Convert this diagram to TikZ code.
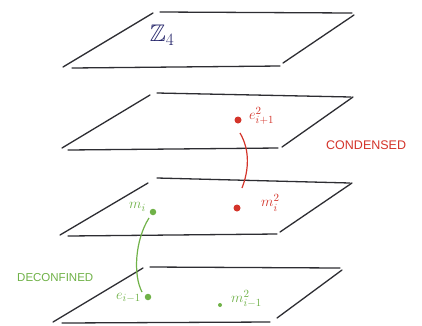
\documentclass[tikz,border=0pt]{standalone}
\usepackage{amssymb}
\usepackage{fontspec}
\setsansfont{Liberation Sans}
\definecolor{pen}{RGB}{45,45,50}
\definecolor{redink}{RGB}{212,52,42}
\definecolor{greenink}{RGB}{112,178,72}
\definecolor{navyink}{RGB}{35,35,105}
\begin{document}
\begin{tikzpicture}[x=1pt,y=-1pt,
  edge/.style={draw=pen,line width=1.3pt,line cap=round},
  reddot/.style={circle,fill=redink,inner sep=0pt,minimum size=7pt},
  greendot/.style={circle,fill=greenink,inner sep=0pt,minimum size=6.5pt},
  smalldot/.style={circle,fill=greenink,inner sep=0pt,minimum size=4pt},
  redlab/.style={text=redink,font=\fontsize{15}{17}\selectfont,inner sep=1pt},
  greenlab/.style={text=greenink,font=\fontsize{15}{17}\selectfont,inner sep=1pt},
  word/.style={inner sep=0pt}]
\useasboundingbox (0,0) rectangle (422,325);
\fill[white] (0,0) rectangle (422,325);
% plane 1
\draw[edge] (153,13) -- (63,67);
\draw[edge] (160,12) -- (352,13);
\draw[edge] (354,15) -- (283,63);
\draw[edge] (72,68) -- (280,66);
% plane 2
\draw[edge] (150,95) -- (62,148);
\draw[edge] (157,93) -- (351,97);
\draw[edge] (353,97) -- (282,147);
\draw[edge] (68,150) -- (278,148);
% plane 3
\draw[edge] (148,183) -- (60,235);
\draw[edge] (157,178) -- (350,183);
\draw[edge] (352,183) -- (280,232);
\draw[edge] (68,236) -- (277,234);
% plane 4
\draw[edge] (143,268) -- (53,322);
\draw[edge] (150,267) -- (340,268);
\draw[edge] (342,270) -- (277,318);
\draw[edge] (62,323) -- (270,322);
% labels
\node[text=navyink,font=\fontsize{24}{26}\selectfont,inner sep=0pt] (z4) at (162,35) {$\mathbb{Z}_4$};
\node[reddot] (e2) at (238,120) {};
\node[redlab,anchor=west] (e2l) at (248,116) {$e^2_{i+1}$};
\node[word,text=redink,anchor=west,font=\sffamily\fontsize{12.5}{14}\selectfont] (cond) at (326,145) {CONDENSED};
\node[reddot] (m2) at (237,208) {};
\node[redlab,anchor=west] (m2l) at (260,203) {$m^2_i$};
\node[greendot] (mi) at (153,212) {};
\node[greenlab,anchor=east] (mil) at (147,207) {$m_i$};
\node[greendot] (ei) at (148,297) {};
\node[greenlab,anchor=east] (eil) at (142,298) {$e_{i-1}$};
\node[smalldot] (m2b) at (220,305) {};
\node[greenlab,anchor=west] (m2bl) at (230,299) {$m^2_{i-1}$};
\node[word,text=greenink,anchor=west,font=\sffamily\fontsize{11.5}{13}\selectfont] (deconf) at (17,278) {DECONFINED};
% connectors
\draw[redink,line width=1.2pt] (e2) ++(2,13) coordinate (ra) .. controls (250,150) and (249,170) .. (242,188) coordinate (rb);
\draw[greenink,line width=1.2pt] (mi) ++(-4,6) coordinate (ga) .. controls (135,240) and (133,275) .. (142,292) coordinate (gb);
\end{tikzpicture}
\end{document}
